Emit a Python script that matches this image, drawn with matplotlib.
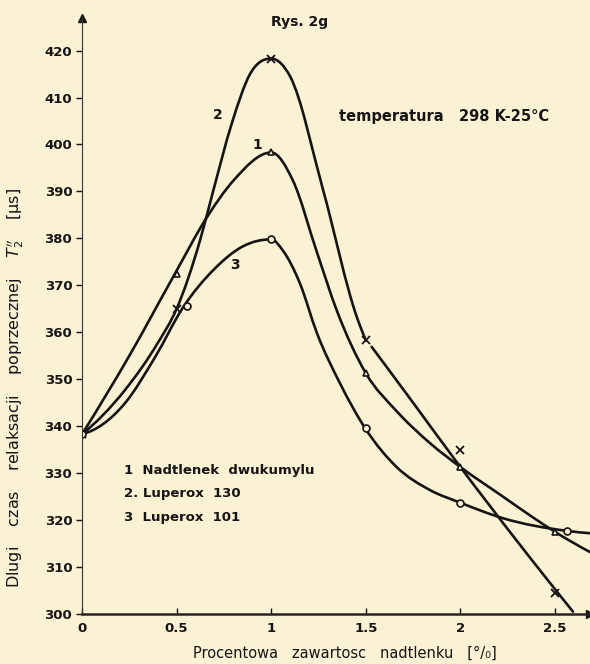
#!/usr/bin/env python3
"""
Rys. 2g - dlugi czas relaksacji poprzecznej T2'' w funkcji
procentowej zawartosci nadtlenku (temperatura 298 K).
"""

import numpy as np
import matplotlib
matplotlib.use('Agg')
import matplotlib.pyplot as plt
from matplotlib.path import Path
from matplotlib.patches import PathPatch

# --- measured points (markers) ---
c1_x = [0, 0.5, 1.0, 1.5, 2.0, 2.5]
c1_y = [338.3, 372.4, 398.3, 351.3, 331.3, 317.5]

c2_x = [0, 0.5, 1.0, 1.5, 2.0, 2.5]
c2_y = [338.3, 365.0, 418.3, 358.3, 335.0, 304.4]

c3_x = [0, 0.555, 1.0, 1.5, 2.0, 2.565]
c3_y = [338.3, 365.5, 379.8, 339.7, 323.7, 317.7]

# --- hand-drawn curves ---
c1_line_x = [0, 0.25, 0.49, 0.66, 0.80, 1.0, 1.115, 1.242, 1.348, 1.5,
             1.663, 1.839, 2.0, 2.225, 2.368, 2.5, 2.685]
c1_line_y = [338.3, 355.0, 372.4, 384.5, 392.3, 398.3, 392.3, 377.0, 364.5,
             351.3, 343.2, 336.4, 331.3, 325.0, 321.0, 317.5, 313.2]

c2a_line_x = [0, 0.227, 0.40, 0.5, 0.624, 0.694, 0.791, 0.888, 1.0, 1.1,
              1.275, 1.453, 1.5]
c2a_line_y = [338.3, 347.7, 357.7, 365.0, 379.6, 390.2, 404.4, 415.0, 418.3,
              414.5, 390.2, 363.2, 358.3]
c2b_line_x = [1.531, 1.75, 2.0, 2.3, 2.595]
c2b_line_y = [356.9, 345.0, 331.3, 315.5, 300.5]

c3_line_x = [0, 0.227, 0.386, 0.534, 0.70, 0.85, 1.0, 1.062, 1.152, 1.242,
             1.364, 1.496, 1.663, 1.839, 2.0, 2.225, 2.565, 2.685]
c3_line_y = [338.3, 344.9, 354.7, 365.3, 373.5, 378.3, 379.8, 377.4, 370.4,
             359.8, 349.1, 339.6, 331.3, 326.4, 323.7, 320.4, 317.7, 317.2]

x_ticks = [0, 0.5, 1, 1.5, 2, 2.5]
x_tick_labels = ['0', '0.5', '1', '1.5', '2', '2.5']
y_ticks = list(range(300, 421, 10))

legend_lines = ['1  Nadtlenek  dwukumylu', '2. Luperox  130', '3  Luperox  101']

BG = '#faf2d4'
INK = '#161414'


def knot_slopes(x, y):
    """Slope at each knot from the parabola through its neighbours,
    flat at a peak so the curve tops out on the knot."""
    h = np.diff(x)
    d = np.diff(y) / h
    m = np.zeros_like(y)
    for i in range(1, len(x) - 1):
        if d[i - 1] * d[i] <= 0:
            m[i] = 0.0
        else:
            m[i] = (h[i] * d[i - 1] + h[i - 1] * d[i]) / (h[i - 1] + h[i])
    if len(x) > 2:
        m[0] = ((2 * h[0] + h[1]) * d[0] - h[0] * d[1]) / (h[0] + h[1])
        m[-1] = ((2 * h[-1] + h[-2]) * d[-1] - h[-1] * d[-2]) / (h[-1] + h[-2])
    else:
        m[:] = d[0]
    return m


def smooth_path(xs, ys):
    """Knots -> cubic Bezier path, drawn by matplotlib."""
    x = np.asarray(xs, float)
    y = np.asarray(ys, float)
    m = knot_slopes(x, y)
    verts = [(x[0], y[0])]
    codes = [Path.MOVETO]
    for i in range(len(x) - 1):
        h = (x[i + 1] - x[i]) / 3.0
        verts += [(x[i] + h, y[i] + m[i] * h),
                  (x[i + 1] - h, y[i + 1] - m[i + 1] * h),
                  (x[i + 1], y[i + 1])]
        codes += [Path.CURVE4] * 3
    return Path(verts, codes)


def draw_curve(ax, xs, ys):
    patch = PathPatch(smooth_path(xs, ys), facecolor='none', edgecolor=INK,
                      lw=1.9, capstyle='round', joinstyle='round')
    ax.add_patch(patch)


def main():
    fig = plt.figure(figsize=(5.9, 6.64), dpi=100)
    fig.patch.set_facecolor(BG)
    ax = fig.add_axes([0.139, 0.0753, 0.861, 0.898])
    ax.set_facecolor(BG)

    draw_curve(ax, c1_line_x, c1_line_y)
    draw_curve(ax, c2a_line_x, c2a_line_y)
    draw_curve(ax, c2b_line_x, c2b_line_y)
    draw_curve(ax, c3_line_x, c3_line_y)

    ax.plot(c1_x, c1_y, ls='none', marker='^', ms=5, mfc=BG, mec=INK, mew=1.2)
    ax.plot(c2_x, c2_y, ls='none', marker='x', ms=6, mec=INK, mew=1.3)
    ax.plot(c3_x, c3_y, ls='none', marker='o', ms=5, mfc=BG, mec=INK, mew=1.2)

    ax.set_xlim(0, 2.685)
    ax.set_ylim(300, 427)

    for side in ['top', 'right']:
        ax.spines[side].set_visible(False)
    ax.spines['left'].set_linewidth(0.8)
    ax.spines['left'].set_color('#3a3535')
    ax.spines['bottom'].set_linewidth(1.8)
    ax.spines['bottom'].set_color('#2a2028')

    # axis arrows
    ax.plot([0], [1], marker='^', ms=6, color=INK, transform=ax.transAxes,
            clip_on=False)
    ax.plot([1], [0], marker='>', ms=6, color=INK, transform=ax.transAxes,
            clip_on=False)

    ax.set_xticks(x_ticks)
    ax.set_xticklabels(x_tick_labels)
    ax.set_yticks(y_ticks)
    ax.tick_params(axis='x', direction='in', length=4, width=1, pad=6,
                   labelsize=9.5, colors=INK)
    ax.tick_params(axis='y', direction='out', length=4, width=1, pad=3,
                   labelsize=9.5, colors=INK)
    for lab in ax.get_xticklabels() + ax.get_yticklabels():
        lab.set_fontweight('bold')

    # curve numbers
    ax.text(0.72, 406.2, '2', fontsize=10, fontweight='bold', color=INK,
            ha='center', va='center')
    ax.text(0.925, 399.8, '1', fontsize=10, fontweight='bold', color=INK,
            ha='center', va='center')
    ax.text(0.81, 374.3, '3', fontsize=10, fontweight='bold', color=INK,
            ha='center', va='center')

    # legend text
    for i, line in enumerate(legend_lines):
        ax.text(0.22, 330.6 - i * 5.0, line, fontsize=9.5, fontweight='bold',
                color=INK, ha='left', va='center')

    ax.text(1.36, 406.0, 'temperatura   298 K-25°C',
            fontsize=10.5, fontweight='bold', color=INK, ha='left', va='center')

    fig.text(0.508, 0.967, 'Rys. 2g', fontsize=10, fontweight='bold',
             color=INK, ha='center', va='center')
    fig.text(0.585, 0.016, 'Procentowa   zawartosc   nadtlenku   [°/₀]',
             fontsize=10.5, color=INK, ha='center', va='center')
    fig.text(0.026, 0.416,
             r"Dlugi    czas    relaksacji    poprzecznej    $T_2^{\prime\prime}$    [μs]",
             fontsize=11.5, color=INK, ha='center', va='center', rotation=90)

    fig.savefig('out.png', dpi=100, facecolor=BG)


if __name__ == '__main__':
    main()
